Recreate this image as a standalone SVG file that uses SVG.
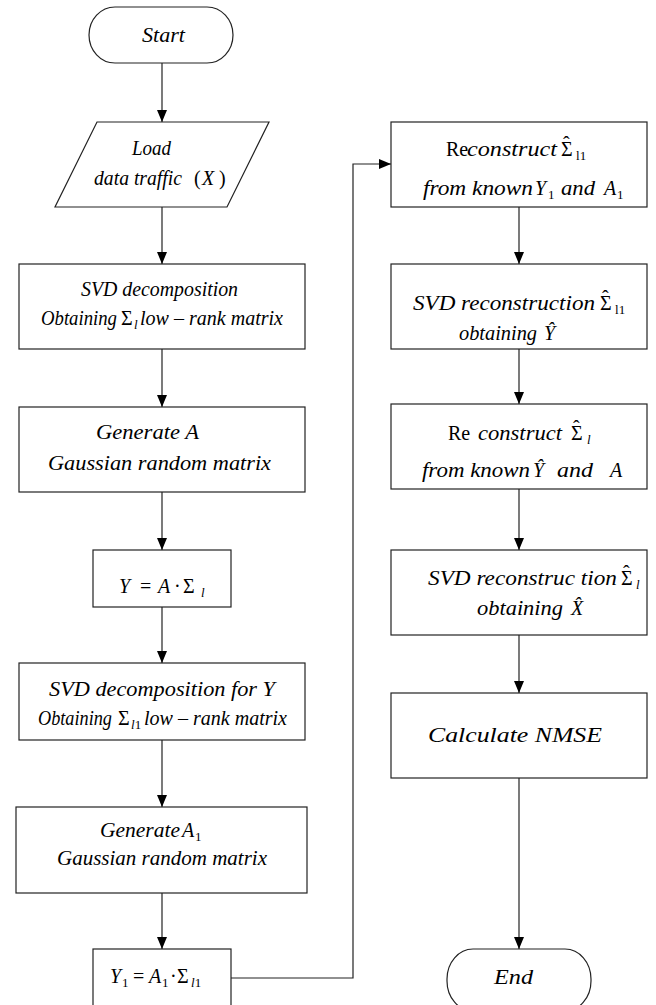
<svg xmlns="http://www.w3.org/2000/svg" width="656" height="1005" viewBox="0 0 656 1005" font-family="Liberation Serif, Times New Roman, serif">
<style>
.b{fill:#fff;stroke:#222;stroke-width:1.2}
.c{fill:none;stroke:#222;stroke-width:1.2}
.t{font-family:'Liberation Serif','Times New Roman',serif;font-size:20px;font-style:italic;fill:#000}
.u{font-style:normal}
.s{font-size:13px}
</style>
<defs>
<marker id="ah" markerUnits="userSpaceOnUse" markerWidth="12" markerHeight="10" refX="12" refY="5" orient="auto">
<path d="M0,0 L12,5 L0,10 z" fill="#000"/>
</marker>
</defs>
<g id="connectors">
<line class="c" x1="162" y1="63" x2="162" y2="122" marker-end="url(#ah)"/>
<line class="c" x1="162" y1="207" x2="162" y2="264" marker-end="url(#ah)"/>
<line class="c" x1="162" y1="349" x2="162" y2="407" marker-end="url(#ah)"/>
<line class="c" x1="162" y1="492" x2="162" y2="550" marker-end="url(#ah)"/>
<line class="c" x1="162" y1="607" x2="162" y2="663" marker-end="url(#ah)"/>
<line class="c" x1="162" y1="740" x2="162" y2="807" marker-end="url(#ah)"/>
<line class="c" x1="162" y1="893" x2="162" y2="949" marker-end="url(#ah)"/>
<polyline class="c" points="231,978 353,978 353,164 391,164" marker-end="url(#ah)"/>
<line class="c" x1="519" y1="207" x2="519" y2="264" marker-end="url(#ah)"/>
<line class="c" x1="519" y1="349" x2="519" y2="404" marker-end="url(#ah)"/>
<line class="c" x1="519" y1="489" x2="519" y2="550" marker-end="url(#ah)"/>
<line class="c" x1="519" y1="635" x2="519" y2="693" marker-end="url(#ah)"/>
<line class="c" x1="519" y1="778" x2="519" y2="949" marker-end="url(#ah)"/>
</g>
<g id="start">
<rect class="b" x="89" y="7" width="144" height="56" rx="26" ry="28"/>
<text class="t" x="142" y="42" textLength="43" lengthAdjust="spacingAndGlyphs">Start</text>
</g>
<g id="load">
<polygon class="b" points="97,122 269,122 227,207 55,207"/>
<text class="t" x="132" y="155" textLength="39" lengthAdjust="spacingAndGlyphs">Load</text>
<text class="t" x="94" y="185" textLength="88" lengthAdjust="spacingAndGlyphs">data traffic</text>
<text class="t u" x="194" y="185">(</text>
<text class="t" x="202" y="185">X</text>
<text class="t u" x="219" y="185">)</text>
</g>
<g id="svd">
<rect class="b" x="19" y="264" width="286" height="85"/>
<text class="t" x="81" y="296" textLength="157" lengthAdjust="spacingAndGlyphs">SVD  decomposition</text>
<text class="t" x="41" y="325" textLength="76" lengthAdjust="spacingAndGlyphs">Obtaining</text>
<text class="t u" x="121" y="325">Σ</text>
<text class="t s" x="134" y="329">l</text>
<text class="t" x="140" y="325" textLength="143" lengthAdjust="spacingAndGlyphs">low – rank matrix</text>
</g>
<g id="genA">
<rect class="b" x="19" y="407" width="286" height="85"/>
<text class="t" x="96" y="439" textLength="103" lengthAdjust="spacingAndGlyphs">Generate  A</text>
<text class="t" x="48" y="470" textLength="223" lengthAdjust="spacingAndGlyphs">Gaussian  random  matrix</text>
</g>
<g id="y">
<rect class="b" x="93" y="550" width="138" height="57"/>
<text class="t" x="119" y="593">Y</text>
<text class="t u" x="140" y="593">=</text>
<text class="t" x="158" y="593">A</text>
<text class="t u" x="174" y="593">·</text>
<text class="t u" x="183" y="593">Σ</text>
<text class="t s" x="201" y="597">l</text>
</g>
<g id="svdY">
<rect class="b" x="19" y="663" width="286" height="77"/>
<text class="t" x="49" y="696" textLength="226" lengthAdjust="spacingAndGlyphs">SVD  decomposition  for  Y</text>
<text class="t" x="38" y="725" textLength="74" lengthAdjust="spacingAndGlyphs">Obtaining</text>
<text class="t u" x="118" y="725">Σ</text>
<text class="t s" x="131" y="729">l<tspan class="u">1</tspan></text>
<text class="t" x="144" y="725" textLength="143" lengthAdjust="spacingAndGlyphs">low – rank matrix</text>
</g>
<g id="genA1">
<rect class="b" x="16" y="807" width="291" height="86"/>
<text class="t" x="100" y="837" textLength="80" lengthAdjust="spacingAndGlyphs">Generate</text>
<text class="t" x="182" y="837">A</text>
<text class="t s u" x="195" y="841">1</text>
<text class="t" x="57" y="865" textLength="210" lengthAdjust="spacingAndGlyphs">Gaussian random matrix</text>
</g>
<g id="y1">
<rect class="b" x="93" y="949" width="138" height="60"/>
<text class="t" x="110" y="983">Y</text>
<text class="t s u" x="122" y="987">1</text>
<text class="t u" x="133" y="983">=</text>
<text class="t" x="149" y="983">A</text>
<text class="t s u" x="162" y="987">1</text>
<text class="t u" x="170" y="983">·</text>
<text class="t u" x="177" y="983">Σ</text>
<text class="t s" x="191" y="987">l<tspan class="u">1</tspan></text>
</g>
<g id="recon1">
<rect class="b" x="391" y="122" width="256" height="85"/>
<text class="t u" x="446" y="156">Re</text>
<text class="t" x="467" y="156" textLength="90" lengthAdjust="spacingAndGlyphs">construct</text>
<text class="t u" x="561" y="156">Σ<tspan x="563" y="151">ˆ</tspan><tspan class="s" x="576" y="160">l</tspan><tspan class="s u">1</tspan></text>
<text class="t" x="423" y="195" textLength="110" lengthAdjust="spacingAndGlyphs">from known</text>
<text class="t" x="535" y="195">Y</text>
<text class="t s u" x="548" y="199">1</text>
<text class="t" x="561" y="195" textLength="34" lengthAdjust="spacingAndGlyphs">and</text>
<text class="t" x="604" y="195">A</text>
<text class="t s u" x="617" y="199">1</text>
</g>
<g id="svdRecon1">
<rect class="b" x="391" y="264" width="256" height="85"/>
<text class="t" x="413" y="310" textLength="182" lengthAdjust="spacingAndGlyphs">SVD reconstruction</text>
<text class="t u" x="600" y="310">Σ<tspan x="602" y="305">ˆ</tspan><tspan class="s" x="615" y="314">l</tspan><tspan class="s u">1</tspan></text>
<text class="t" x="459" y="340" textLength="78" lengthAdjust="spacingAndGlyphs">obtaining</text>
<text class="t" x="544" y="340">&#x176;</text>
</g>
<g id="recon2">
<rect class="b" x="391" y="404" width="256" height="85"/>
<text class="t u" x="448" y="440">Re</text>
<text class="t" x="478" y="440" textLength="84" lengthAdjust="spacingAndGlyphs">construct</text>
<text class="t u" x="571" y="440">Σ<tspan x="573" y="435">ˆ</tspan><tspan class="s" style="font-style:italic" x="587" y="444">l</tspan></text>
<text class="t" x="422" y="477" textLength="108" lengthAdjust="spacingAndGlyphs">from known</text>
<text class="t" x="533" y="477">&#x176;</text>
<text class="t" x="557" y="477" textLength="36" lengthAdjust="spacingAndGlyphs">and</text>
<text class="t" x="610" y="477">A</text>
</g>
<g id="svdRecon2">
<rect class="b" x="391" y="550" width="256" height="85"/>
<text class="t" x="428" y="585" textLength="189" lengthAdjust="spacingAndGlyphs">SVD reconstruc tion</text>
<text class="t u" x="621" y="585">Σ<tspan x="623" y="580">ˆ</tspan><tspan class="s" style="font-style:italic" x="636" y="589">l</tspan></text>
<text class="t" x="477" y="615" textLength="86" lengthAdjust="spacingAndGlyphs">obtaining</text>
<text class="t" x="571" y="615">X&#x302;</text>
</g>
<g id="nmse">
<rect class="b" x="391" y="693" width="256" height="85"/>
<text class="t" x="428" y="742" textLength="174" lengthAdjust="spacingAndGlyphs">Calculate NMSE</text>
</g>
<g id="end">
<rect class="b" x="447" y="949" width="144" height="62" rx="26" ry="30"/>
<text class="t" x="494" y="984" textLength="39" lengthAdjust="spacingAndGlyphs">End</text>
</g>
</svg>
